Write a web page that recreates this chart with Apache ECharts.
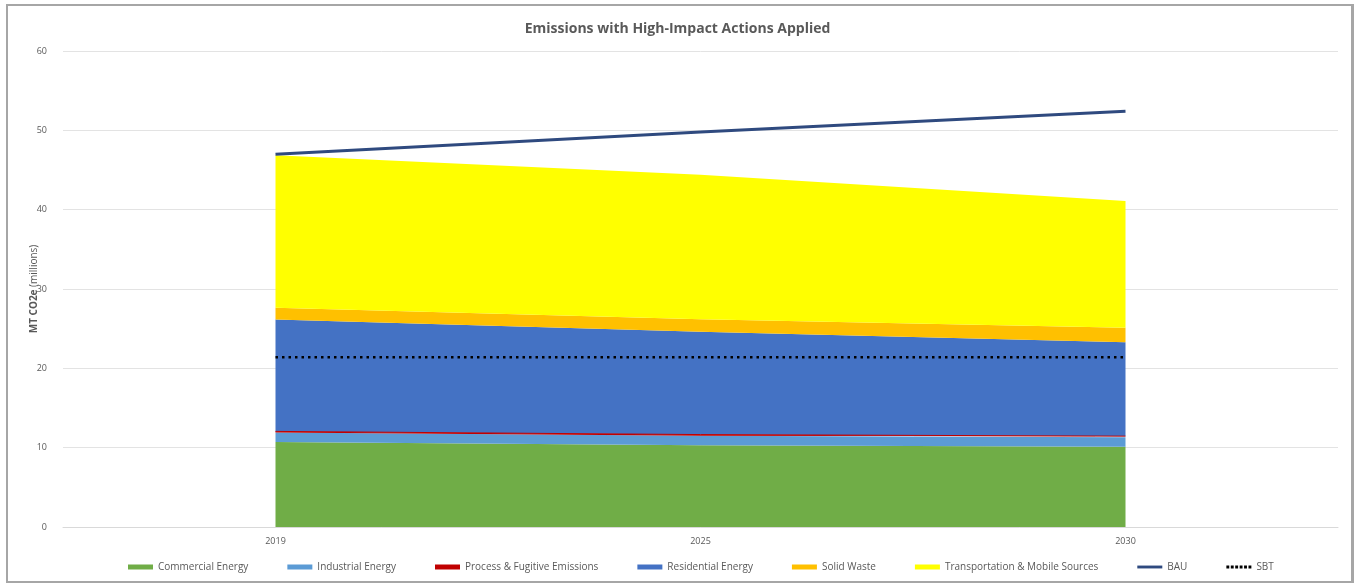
<!DOCTYPE html>
<html>
<head>
<meta charset="utf-8">
<script src="https://cdn.jsdelivr.net/npm/echarts@6/dist/echarts.min.js"></script>
<style>
html,body{margin:0;padding:0;background:#fff;}
#chart{position:absolute;left:0;top:0;width:1355px;height:584px;}
#frame{position:absolute;left:6px;top:4px;right:1px;bottom:1px;border:2px solid #A6A6A6;border-right-width:3px;pointer-events:none;}
</style>
</head>
<body>
<div id="chart"></div>
<div id="frame"></div>
<script>
const categories = ['2019', '2025', '2030'];
const commercial = [10.7, 10.3, 10.1];
const industrial = [1.2, 1.2, 1.2];
const process = [0.15, 0.15, 0.15];
const residential = [14.1, 12.95, 11.85];
const solidWaste = [1.5, 1.6, 1.8];
const transportation = [19.2, 18.2, 16.0];
const bau = [47.0, 49.8, 52.4];
const sbt = [21.4, 21.4, 21.4];

const areaDefs = [
  ['Commercial Energy', commercial, '#70AD47'],
  ['Industrial Energy', industrial, '#5B9BD5'],
  ['Process & Fugitive Emissions', process, '#C00000'],
  ['Residential Energy', residential, '#4472C4'],
  ['Solid Waste', solidWaste, '#FFC000'],
  ['Transportation & Mobile Sources', transportation, '#FFFF00']
];

const series = areaDefs.map(([name, data, color]) => ({
  name, type: 'line', stack: 'total', data,
  symbol: 'none', color,
  lineStyle: { width: name.startsWith('Process') ? 1 : 0, color },
  areaStyle: { color, opacity: 1 },
  emphasis: { disabled: true }
}));
series.push({
  name: 'BAU', type: 'line', data: bau, symbol: 'none', color: '#2F4A7F',
  lineStyle: { width: 3, color: '#2F4A7F' }, z: 5
});
series.push({
  name: 'SBT', type: 'line', data: sbt, symbol: 'none', color: '#000',
  lineStyle: { width: 2.5, color: '#000', type: [2.5, 4] }, z: 5
});

const lineIcon = 'path://M0,0H26V3H0Z';
const dotIcon = 'path://M0,0h3v3h-3z M4.6,0h3v3h-3z M9.2,0h3v3h-3z M13.8,0h3v3h-3z M18.4,0h3v3h-3z M23,0h3v3h-3z';

const chart = echarts.init(document.getElementById('chart'), null, { renderer: 'canvas' });
chart.setOption({
  animation: false,
  backgroundColor: '#fff',
  title: {
    text: 'Emissions with High-Impact Actions Applied',
    left: 'center', top: 17,
    textStyle: { fontFamily: 'Open Sans', fontSize: 14, fontWeight: 'bold', color: '#595959' }
  },
  legend: {
    bottom: 7, left: 123, itemGap: 39, itemWidth: 25, itemHeight: 5,
    textStyle: { fontFamily: 'Open Sans', fontSize: 10, color: '#595959' },
    data: [
      { name: 'Commercial Energy', icon: 'rect' },
      { name: 'Industrial Energy', icon: 'rect' },
      { name: 'Process & Fugitive Emissions', icon: 'rect' },
      { name: 'Residential Energy', icon: 'rect' },
      { name: 'Solid Waste', icon: 'rect' },
      { name: 'Transportation & Mobile Sources', icon: 'rect' },
      { name: 'BAU', icon: lineIcon },
      { name: 'SBT', icon: dotIcon }
    ]
  },
  grid: { left: 63, right: 17, top: 51, bottom: 57 },
  xAxis: {
    type: 'category', data: categories, boundaryGap: true,
    axisLine: { show: true, lineStyle: { color: '#D9D9D9' } },
    axisTick: { show: false },
    axisLabel: { fontFamily: 'Open Sans', fontSize: 9, color: '#595959', margin: 10 }
  },
  yAxis: {
    type: 'value', min: 0, max: 60, interval: 10,
    name: '{b|MT CO2e} {n|(millions)}', nameLocation: 'middle', nameGap: 24,
    nameMoveOverlap: false,
    nameTextStyle: {
      fontFamily: 'Open Sans', fontSize: 10, color: '#595959',
      rich: {
        b: { fontFamily: 'Open Sans', fontSize: 10, fontWeight: 'bold', color: '#595959' },
        n: { fontFamily: 'Open Sans', fontSize: 10, color: '#595959' }
      }
    },
    axisLine: { show: false }, axisTick: { show: false },
    axisLabel: { fontFamily: 'Open Sans', fontSize: 9, color: '#595959', margin: 16 },
    splitLine: { lineStyle: { color: '#E3E3E3', width: 1 } }
  },
  series
});
</script>
</body>
</html>
